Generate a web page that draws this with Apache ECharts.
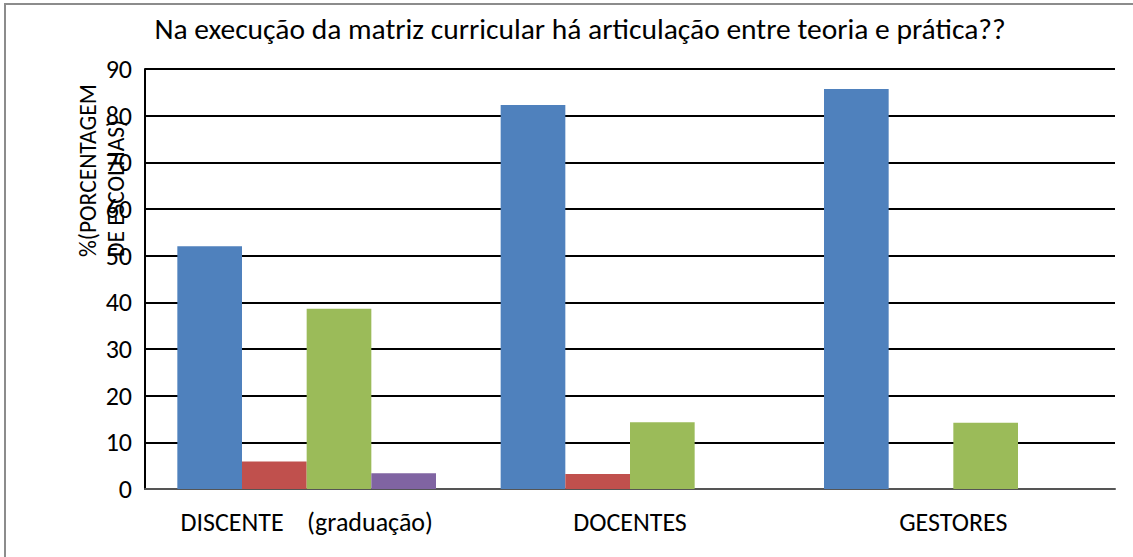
<!DOCTYPE html>
<html>
<head>
<meta charset="utf-8">
<script src="https://cdn.jsdelivr.net/npm/echarts@6/dist/echarts.min.js"></script>
<style>
  html, body { margin: 0; padding: 0; background: #fff; }
  #chart { width: 1133px; height: 557px; }
</style>
</head>
<body>
<div id="chart"></div>
<script>
// dados
const categorias = ['DISCENTE    (graduação)', 'DOCENTES', 'GESTORES']
const serie1 = [52, 82.3, 85.7]
const serie2 = [5.9, 3.2, 0]
const serie3 = [38.6, 14.3, 14.2]
const serie4 = [3.4, 0, 0]
const yTicks = [0, 10, 20, 30, 40, 50, 60, 70, 80, 90]

const cores = ['#4F81BD', '#C0504D', '#9BBB59', '#8064A2']
const fonte = 'Carlito, Calibri, "Liberation Sans Narrow", "Open Sans", sans-serif'

const chart = echarts.init(document.getElementById('chart'), null, { renderer: 'svg' })

const mkSerie = (nome, dados, i) => ({
  name: nome,
  type: 'bar',
  data: dados,
  barGap: '0%',
  barCategoryGap: '20%',
  itemStyle: { color: cores[i] }
})

const option = {
  backgroundColor: '#fff',
  animation: false,
  title: {
    text: 'Na execução da matriz curricular há articulação entre teoria e prática??',
    left: 575,
    top: 9,
    textAlign: 'center',
    textStyle: { fontFamily: fonte, fontSize: 29.5, fontWeight: 'normal', color: '#000' }
  },
  graphic: [
    {
      type: 'rect',
      shape: { x: 5, y: 4, width: 1300, height: 700 },
      style: { fill: 'none', stroke: '#8c8c8c', lineWidth: 2 },
      silent: true
    },
    {
      // título do eixo Y (duas linhas, sobreposto aos rótulos como no original)
      type: 'text',
      x: 102,
      y: 257,
      rotation: Math.PI / 2,
      style: {
        text: '%(PORCENTAGEM\nDE ESCOLHAS)',
        font: '23.5px ' + fonte,
        fill: '#000',
        align: 'left',
        verticalAlign: 'middle',
        lineHeight: 28
      }
    }
  ],
  grid: { left: 145, right: 18, top: 69, bottom: 68 },
  xAxis: {
    type: 'category',
    data: categorias,
    axisTick: { show: false },
    axisLine: { lineStyle: { color: '#555', width: 2 } },
    axisLabel: { interval: 0, margin: 20, fontSize: 26, fontFamily: fonte, color: '#000' }
  },
  yAxis: {
    type: 'value',
    min: yTicks[0],
    max: yTicks[yTicks.length - 1],
    interval: 10,
    axisLine: { show: true, lineStyle: { color: '#000', width: 2 } },
    axisTick: { show: false },
    axisLabel: { margin: 13, fontSize: 26, fontFamily: fonte, color: '#000' },
    splitLine: { lineStyle: { color: '#000', width: 2 } }
  },
  series: [
    mkSerie('Série 1', serie1, 0),
    mkSerie('Série 2', serie2, 1),
    mkSerie('Série 3', serie3, 2),
    mkSerie('Série 4', serie4, 3)
  ]
}

chart.setOption(option)
</script>
</body>
</html>
